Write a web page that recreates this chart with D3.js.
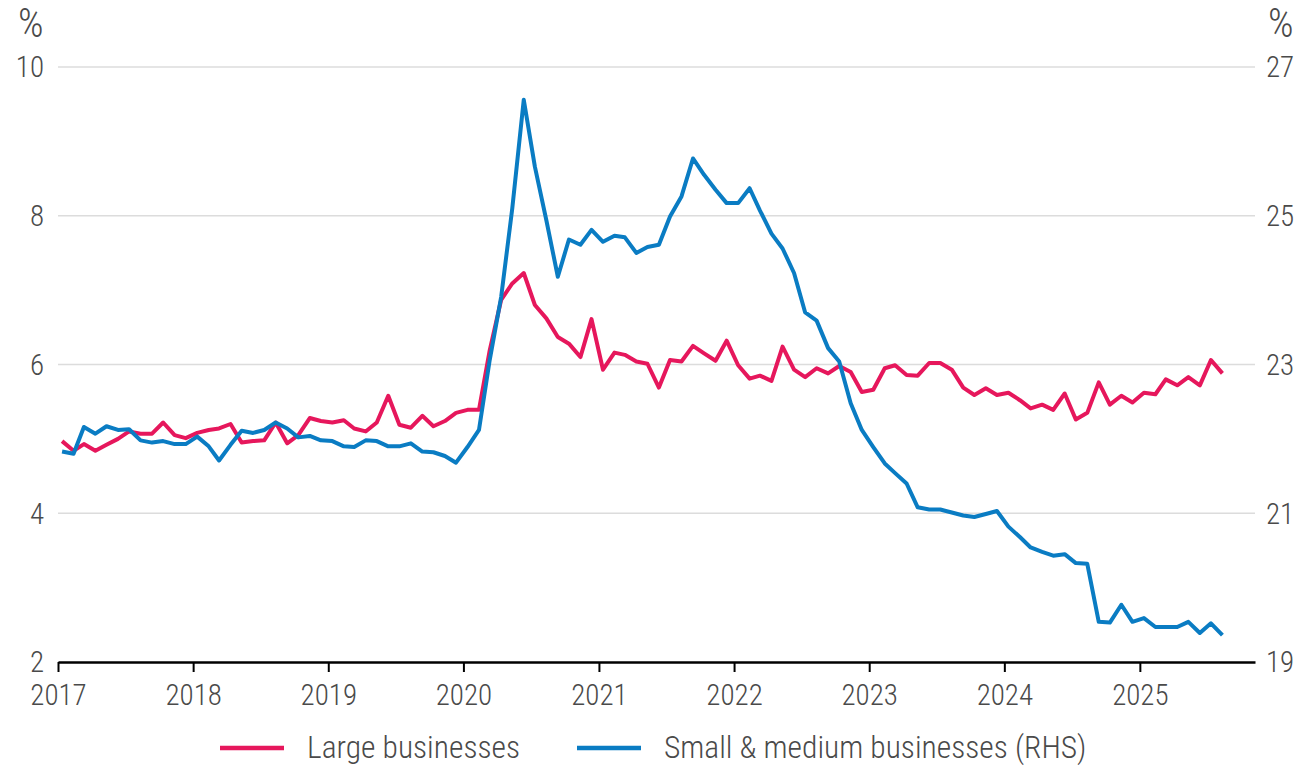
<!DOCTYPE html>
<html>
<head>
<meta charset="utf-8">
<script src="https://cdn.jsdelivr.net/npm/d3@7"></script>
<style>
    body { margin: 0; background: #fff; }
    text { font-family: "Liberation Sans Narrow", "Arial Narrow", "Roboto Condensed", "Open Sans", sans-serif; font-weight: 300; fill: #4a4a4a; }
</style>
</head>
<body>
<div class="chart-container"></div>
<script>
// Chart params
const width = 1299;
const height = 765;

// Monthly data, Jan 2017 to Aug 2025
const startYear = 2017;
const largeBusinesses = [
    4.97, 4.84, 4.93, 4.84, 4.92, 5.00, 5.10, 5.07, 5.07, 5.22, 5.05, 5.01,
    5.08, 5.12, 5.14, 5.20, 4.95, 4.97, 4.98, 5.22, 4.94, 5.05, 5.28, 5.24,
    5.22, 5.25, 5.14, 5.10, 5.22, 5.58, 5.19, 5.15, 5.31, 5.17, 5.24, 5.35,
    5.39, 5.39, 6.19, 6.87, 7.09, 7.23, 6.80, 6.62, 6.37, 6.28, 6.10, 6.61,
    5.93, 6.16, 6.13, 6.04, 6.01, 5.69, 6.06, 6.04, 6.25, 6.15, 6.05, 6.32,
    5.99, 5.81, 5.85, 5.78, 6.24, 5.93, 5.83, 5.95, 5.88, 5.98, 5.90, 5.63,
    5.66, 5.95, 5.99, 5.86, 5.85, 6.02, 6.02, 5.93, 5.69, 5.59, 5.68, 5.59,
    5.62, 5.52, 5.41, 5.46, 5.39, 5.61, 5.26, 5.35, 5.76, 5.46, 5.58, 5.49,
    5.62, 5.60, 5.80, 5.72, 5.83, 5.72, 6.06, 5.88
];
const smallMediumBusinesses = [
    21.83, 21.80, 22.16, 22.07, 22.17, 22.12, 22.13, 21.98, 21.95, 21.97, 21.93, 21.93,
    22.03, 21.90, 21.71, 21.92, 22.11, 22.08, 22.12, 22.22, 22.14, 22.02, 22.04, 21.98,
    21.97, 21.90, 21.89, 21.98, 21.97, 21.90, 21.90, 21.94, 21.83, 21.82, 21.77, 21.68,
    21.89, 22.12, 23.06, 23.91, 25.10, 26.56, 25.66, 24.94, 24.18, 24.68, 24.61, 24.81,
    24.65, 24.73, 24.71, 24.50, 24.58, 24.61, 24.99, 25.26, 25.77, 25.55, 25.35, 25.17,
    25.17, 25.37, 25.07, 24.76, 24.56, 24.23, 23.70, 23.59, 23.22, 23.04, 22.48, 22.12,
    21.89, 21.67, 21.54, 21.40, 21.08, 21.05, 21.05, 21.01, 20.97, 20.95, 20.99, 21.03,
    20.82, 20.68, 20.54, 20.48, 20.43, 20.45, 20.33, 20.32, 19.54, 19.53, 19.77, 19.54,
    19.59, 19.47, 19.47, 19.47, 19.54, 19.39, 19.52, 19.36
];

// Tick labels
const yearTicks = [2017, 2018, 2019, 2020, 2021, 2022, 2023, 2024, 2025];
const leftTicks = [2, 4, 6, 8, 10];
const rightTicks = [19, 21, 23, 25, 27];

// Series labels and colours
const seriesNames = ['Large businesses', 'Small & medium businesses (RHS)'];
const colours = ['#e6175c', '#0a7cc3'];

const margin = { top: 67, right: 44, bottom: 103, left: 58 };

// Draw the chart
function drawChart() {

    var svg = d3.select('.chart-container')
        .append('svg')
        .attr('width', width)
        .attr('height', height);

    // Scales
    var x = d3.scaleTime()
        .domain([new Date(2017, 0, 1), new Date(2025, 10, 8)])
        .range([margin.left, width - margin.right]);

    var yLeft = d3.scaleLinear()
        .domain([2, 10])
        .range([height - margin.bottom, margin.top]);

    var yRight = d3.scaleLinear()
        .domain([19, 27])
        .range([height - margin.bottom, margin.top]);

    // Grid lines
    svg.append('g')
        .selectAll('line')
        .data(leftTicks.slice(1))
        .enter()
        .append('line')
        .attr('x1', margin.left)
        .attr('x2', width - margin.right)
        .attr('y1', d => yLeft(d))
        .attr('y2', d => yLeft(d))
        .attr('stroke', '#dcdcdc')
        .attr('stroke-width', 1.5);

    // Left axis labels
    svg.append('g')
        .selectAll('text')
        .data(leftTicks)
        .enter()
        .append('text')
        .attr('x', 44)
        .attr('y', d => yLeft(d))
        .attr('dy', '0.36em')
        .attr('text-anchor', 'end')
        .attr('font-size', 29)
        .text(d => d);

    // Right axis labels
    svg.append('g')
        .selectAll('text')
        .data(rightTicks)
        .enter()
        .append('text')
        .attr('x', 1266)
        .attr('y', d => yRight(d))
        .attr('dy', '0.36em')
        .attr('font-size', 29)
        .text(d => d);

    // Units
    svg.append('text').attr('x', 18).attr('y', 37).attr('font-size', 40).text('%');
    svg.append('text').attr('x', 1268).attr('y', 37).attr('font-size', 40).text('%');

    // Lines
    var date = i => new Date(startYear, i, 12);

    var lineLeft = d3.line()
        .x((d, i) => x(date(i)))
        .y(d => yLeft(d));

    var lineRight = d3.line()
        .x((d, i) => x(date(i)))
        .y(d => yRight(d));

    svg.append('path')
        .datum(largeBusinesses)
        .attr('fill', 'none')
        .attr('stroke', colours[0])
        .attr('stroke-width', 4)
        .attr('stroke-linejoin', 'round')
        .attr('d', lineLeft);

    svg.append('path')
        .datum(smallMediumBusinesses)
        .attr('fill', 'none')
        .attr('stroke', colours[1])
        .attr('stroke-width', 4)
        .attr('stroke-linejoin', 'round')
        .attr('d', lineRight);

    // X axis
    var xAxis = svg.append('g')
        .attr('transform', `translate(0,${height - margin.bottom})`)
        .call(d3.axisBottom(x)
            .tickValues(yearTicks.map(y => new Date(y, 0, 1)))
            .tickFormat(d3.timeFormat('%Y'))
            .tickSize(10)
            .tickSizeOuter(0)
            .tickPadding(12));

    xAxis.select('.domain')
        .attr('stroke', '#000')
        .attr('stroke-width', 2.5);

    xAxis.selectAll('.tick line')
        .attr('stroke', '#000')
        .attr('stroke-width', 2);

    xAxis.selectAll('.tick text')
        .attr('font-size', 29)
        .attr('fill', '#4a4a4a');

    xAxis.attr('font-family', null);

    // Legend
    var legendX = [220, 577];
    var legend = svg.append('g')
        .selectAll('g')
        .data(seriesNames)
        .enter()
        .append('g')
        .attr('transform', (d, i) => `translate(${legendX[i]},748)`);

    legend.append('line')
        .attr('x1', 0)
        .attr('x2', 64)
        .attr('stroke', (d, i) => colours[i])
        .attr('stroke-width', 4.5);

    legend.append('text')
        .attr('x', 87)
        .attr('y', 10)
        .attr('font-size', 31.5)
        .text(d => d);
}

window.onload = function () {
    drawChart();
};
</script>
</body>
</html>
